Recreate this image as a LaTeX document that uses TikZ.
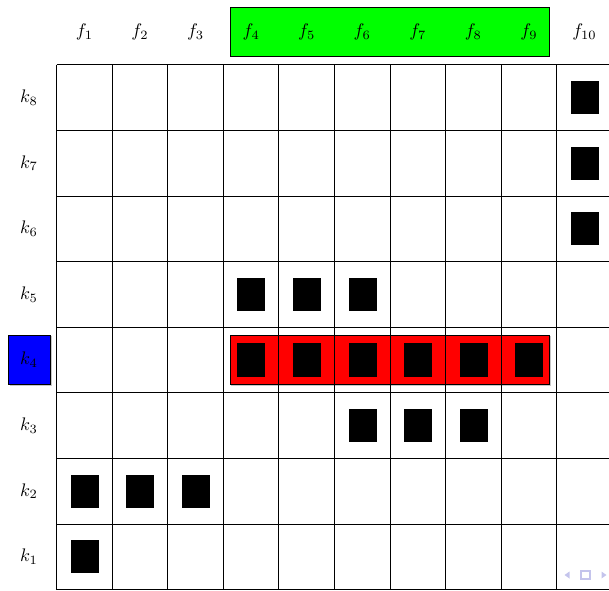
\documentclass[tikz,border=0pt]{standalone}
\definecolor{navc}{RGB}{196,196,236}
\begin{document}
\begin{tikzpicture}[x=0.55pt,y=-0.55pt,
  gridline/.style={draw=black, line width=0.45pt},
  sq/.style={fill=black, draw=none, inner sep=0pt, minimum width=15.4pt, minimum height=18.2pt},
  hlbox/.style={draw=black, line width=0.45pt, inner sep=0pt},
  shadowbox/.style={fill=black!22, draw=none, inner sep=0pt},
  lbl/.style={inner sep=0pt, font=\normalsize},
  nav/.style={fill=navc, draw=none}]
\useasboundingbox (0,0) rectangle (609,590);
% green header box
\node[hlbox, fill=green, minimum width=175.5pt, minimum height=27pt] (greenbar) at (389.5,31.5) {};
% red and blue highlight boxes with shadow
\node[shadowbox, minimum width=175.5pt, minimum height=27pt] (redshadow) at (391,361) {};
\node[hlbox, fill=red, minimum width=175.5pt, minimum height=27pt] (redbar) at (389.5,359.5) {};
\node[shadowbox, minimum width=23.1pt, minimum height=27pt] (blueshadow) at (30.5,361) {};
\node[hlbox, fill=blue, minimum width=23.1pt, minimum height=27pt] (bluebox) at (29,359.5) {};
% grid
\foreach \i in {0,...,10}
  \draw[gridline] ({56.7+55.55*\i},64.7) -- ({56.7+55.55*\i},589.7);
\foreach \j in {0,...,8}
  \draw[gridline] (56.7,{64.7+65.625*\j}) -- (612,{64.7+65.625*\j});
% column labels
\foreach \i in {1,...,10}
  \node[lbl] (f\i) at ({56.7+55.55*(\i-0.5)},32) {$f_{\i}$};
% row labels
\foreach \j in {1,...,8}
  \node[lbl] (k\j) at (29,{64.7+65.625*(8.5-\j)}) {$k_{\j}$};
% black squares: column/row pairs
\foreach \c/\r in {10/8,10/7,10/6,4/5,5/5,6/5,4/4,5/4,6/4,7/4,8/4,9/4,6/3,7/3,8/3,1/2,2/2,3/2,1/1}
  \node[sq] (s\c-\r) at ({56.7+55.55*(\c-0.5)+0.3},{64.7+65.625*(8.5-\r)}) {};
% navigation symbols
\fill[nav] (564.5,575) -- (569.5,571.5) -- (569.5,578.5) -- cycle;
\draw[navc, line width=0.7pt] (581,571) rectangle (590,579);
\fill[nav] (606.5,575) -- (601.5,571.5) -- (601.5,578.5) -- cycle;
\end{tikzpicture}
\end{document}
